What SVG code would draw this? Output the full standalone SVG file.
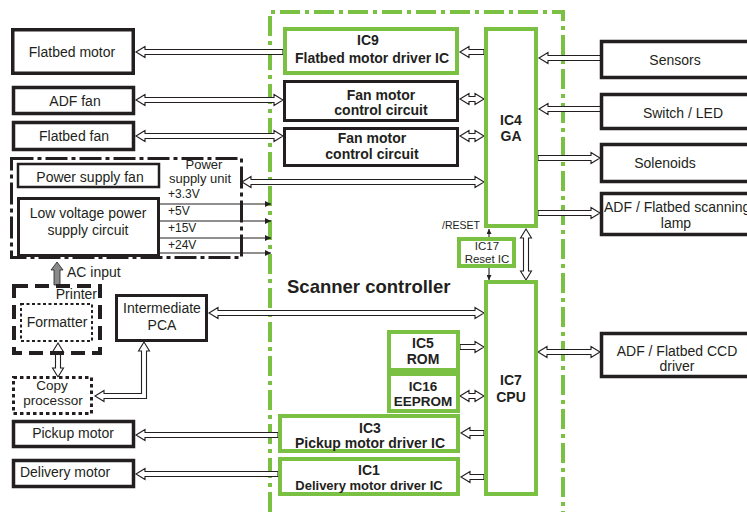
<svg xmlns="http://www.w3.org/2000/svg" width="747" height="512" viewBox="0 0 747 512">
<style>
text{font-family:"Liberation Sans",Arial,sans-serif;fill:#231f20}
.t{font-size:14px}
.b{font-size:14px;font-weight:bold}
.s{font-size:12px}
.blk{fill:#fff;stroke:#231f20;stroke-width:3.5}
.grn{fill:#fff;stroke:#7ac143;stroke-width:4}
.arr{fill:#fff;stroke:#231f20;stroke-width:1.1;stroke-linejoin:miter}
.thin{stroke:#231f20;stroke-width:1.1;fill:none}
</style>
<defs>
<marker id="tri" viewBox="0 0 10 10" refX="10" refY="5" markerWidth="8" markerHeight="6" markerUnits="userSpaceOnUse" orient="auto">
<path d="M0,0 L10,5 L0,10 Z" fill="#231f20"/>
</marker>
<marker id="sm" viewBox="0 0 10 10" refX="10" refY="5" markerWidth="6" markerHeight="5" markerUnits="userSpaceOnUse" orient="auto">
<path d="M0,0 L10,5 L0,10 Z" fill="#231f20"/>
</marker>
</defs>
<rect width="747" height="512" fill="#fff"/>

<!-- scanner controller border -->
<g id="scanner-controller">
<path d="M270,512 L270,12 L563,12 L563,512" fill="none" stroke="#7ac143" stroke-width="4" stroke-dasharray="20 5 4 5"/>
<text x="287" y="293" style="font-size:18.5px;font-weight:bold">Scanner controller</text>
</g>

<!-- connectors -->
<g id="connectors">
<path class="arr" d="M136,52 L145,46.5 L145,49.5 L283,49.5 L283,54.5 L145,54.5 L145,57.5 Z"/>
<path class="arr" d="M136,100 L145,94.5 L145,97.5 L274,97.5 L274,94.5 L283,100 L274,105.5 L274,102.5 L145,102.5 L145,105.5 Z"/>
<path class="arr" d="M136,136 L145,130.5 L145,133.5 L274,133.5 L274,130.5 L283,136 L274,141.5 L274,138.5 L145,138.5 L145,141.5 Z"/>
<path class="arr" d="M460,52 L469,46.5 L469,49.5 L484,49.5 L484,54.5 L469,54.5 L469,57.5 Z"/>
<path class="arr" d="M460,99 L469,93.5 L469,96.5 L475,96.5 L475,93.5 L484,99 L475,104.5 L475,101.5 L469,101.5 L469,104.5 Z"/>
<path class="arr" d="M460,136 L469,130.5 L469,133.5 L475,133.5 L475,130.5 L484,136 L475,141.5 L475,138.5 L469,138.5 L469,141.5 Z"/>
<path class="arr" d="M539,58 L548,52.5 L548,55.5 L601,55.5 L601,60.5 L548,60.5 L548,63.5 Z"/>
<path class="arr" d="M539,109 L548,103.5 L548,106.5 L601,106.5 L601,111.5 L548,111.5 L548,114.5 Z"/>
<path class="arr" d="M538,155.5 L591,155.5 L591,152.5 L600,158 L591,163.5 L591,160.5 L538,160.5 Z"/>
<path class="arr" d="M538,210.5 L591,210.5 L591,207.5 L600,213 L591,218.5 L591,215.5 L538,215.5 Z"/>
<path class="arr" d="M242,182 L251,176.5 L251,179.5 L475,179.5 L475,176.5 L484,182 L475,187.5 L475,184.5 L251,184.5 L251,187.5 Z"/>
<path class="arr" d="M526,229 L531.5,238 L528.5,238 L528.5,271 L531.5,271 L526,280 L520.5,271 L523.5,271 L523.5,238 L520.5,238 Z"/>
<path class="arr" d="M209,313 L218,307.5 L218,310.5 L475,310.5 L475,307.5 L484,313 L475,318.5 L475,315.5 L218,315.5 L218,318.5 Z"/>
<path class="arr" d="M460,344.5 L475,344.5 L475,341.5 L484,347 L475,352.5 L475,349.5 L460,349.5 Z"/>
<path class="arr" d="M460,396 L469,390.5 L469,393.5 L475,393.5 L475,390.5 L484,396 L475,401.5 L475,398.5 L469,398.5 L469,401.5 Z"/>
<path class="arr" d="M461,433 L470,427.5 L470,430.5 L484,430.5 L484,435.5 L470,435.5 L470,438.5 Z"/>
<path class="arr" d="M461,477 L470,471.5 L470,474.5 L484,474.5 L484,479.5 L470,479.5 L470,482.5 Z"/>
<path class="arr" d="M136,435 L145,429.5 L145,432.5 L278,432.5 L278,437.5 L145,437.5 L145,440.5 Z"/>
<path class="arr" d="M136,474 L145,468.5 L145,471.5 L278,471.5 L278,476.5 L145,476.5 L145,479.5 Z"/>
<path class="arr" d="M538,352 L547,346.5 L547,349.5 L591,349.5 L591,346.5 L600,352 L591,357.5 L591,354.5 L547,354.5 L547,357.5 Z"/>
<path class="arr" d="M58,343 L63.5,352 L60.5,352 L60.5,368 L63.5,368 L58,377 L52.5,368 L55.5,368 L55.5,352 L52.5,352 Z"/>
<path class="arr" d="M144,342 L149.5,351 L146.5,351 L146.5,398.5 L104,398.5 L104,401.5 L95,396 L104,390.5 L104,393.5 L141.5,393.5 L141.5,351 L138.5,351 Z"/>
<path d="M57,262 L63,270 L60,270 L60,285 L54,285 L54,270 L51,270 Z" fill="#8a8a8a" stroke="#231f20" stroke-width="0.8"/>
<line class="thin" x1="160" y1="204" x2="271" y2="204" marker-end="url(#tri)"/>
<line class="thin" x1="160" y1="221" x2="271" y2="221" marker-end="url(#tri)"/>
<line class="thin" x1="160" y1="238" x2="271" y2="238" marker-end="url(#tri)"/>
<line class="thin" x1="160" y1="253" x2="271" y2="253" marker-end="url(#tri)"/>
<line class="thin" x1="489" y1="237" x2="489" y2="229" marker-end="url(#sm)"/>
<line class="thin" x1="489" y1="268" x2="489" y2="280" marker-end="url(#sm)"/>
</g>

<!-- left nodes -->
<g id="flatbed-motor"><rect class="blk" x="12.75" y="29.75" width="120.5" height="43.5"/><text class="t" x="72" y="57" text-anchor="middle">Flatbed motor</text></g>
<g id="adf-fan"><rect class="blk" x="13.5" y="87.5" width="120" height="26"/><text class="t" x="75" y="106" text-anchor="middle">ADF fan</text></g>
<g id="flatbed-fan"><rect class="blk" x="13.5" y="122.5" width="120" height="27"/><text class="t" x="74" y="141" text-anchor="middle">Flatbed fan</text></g>

<g id="power-supply-unit">
<rect x="11.5" y="158.5" width="230" height="99" fill="none" stroke="#231f20" stroke-width="3" stroke-dasharray="22 4 4 4"/>
<text x="204" y="169" text-anchor="middle" style="font-size:13px">Power</text>
<text x="200" y="183" text-anchor="middle" style="font-size:13px">supply unit</text>
<text class="s" x="168" y="198">+3.3V</text>
<text class="s" x="168" y="215">+5V</text>
<text class="s" x="168" y="232">+15V</text>
<text class="s" x="168" y="249">+24V</text>
</g>
<g id="power-supply-fan"><rect x="18" y="164" width="141" height="23" fill="#fff" stroke="#231f20" stroke-width="2.5"/><text class="t" x="90" y="182" text-anchor="middle">Power supply fan</text></g>
<g id="low-voltage"><rect x="18.5" y="198.5" width="140" height="57" fill="#fff" stroke="#231f20" stroke-width="3"/><text class="t" x="88" y="218" text-anchor="middle">Low voltage power</text><text class="t" x="88" y="235" text-anchor="middle">supply circuit</text></g>
<g id="ac-input"><text class="t" x="67" y="277">AC input</text></g>

<g id="printer"><rect x="14" y="286" width="86" height="67" fill="none" stroke="#231f20" stroke-width="4" stroke-dasharray="14 7"/><text class="t" x="97" y="299" text-anchor="end">Printer</text></g>
<g id="formatter"><rect x="21" y="304" width="71" height="37" fill="#fff" stroke="#231f20" stroke-width="2" stroke-dasharray="3 2.5"/><text class="t" x="57" y="327" text-anchor="middle">Formatter</text></g>
<g id="copy-processor"><rect x="13.5" y="377.5" width="78" height="36" fill="#fff" stroke="#231f20" stroke-width="3" stroke-dasharray="3.5 3"/><text x="52" y="390" text-anchor="middle" style="font-size:13.5px">Copy</text><text x="53" y="405" text-anchor="middle" style="font-size:13.5px">processor</text></g>
<g id="intermediate-pca"><rect x="116.5" y="295.5" width="90" height="45" fill="#fff" stroke="#231f20" stroke-width="3"/><text class="t" x="162" y="313" text-anchor="middle">Intermediate</text><text class="t" x="162" y="330" text-anchor="middle">PCA</text></g>
<g id="pickup-motor"><rect class="blk" x="13.5" y="421.5" width="120" height="25"/><text class="t" x="73" y="438" text-anchor="middle">Pickup motor</text></g>
<g id="delivery-motor"><rect class="blk" x="13.5" y="460.5" width="120" height="26"/><text class="t" x="65" y="477" text-anchor="middle">Delivery motor</text></g>

<!-- scanner controller nodes -->
<g id="ic9"><rect class="grn" x="285" y="29" width="172" height="44"/><text class="b" x="368" y="45" text-anchor="middle">IC9</text><text class="b" x="372" y="63" text-anchor="middle">Flatbed motor driver IC</text></g>
<g id="fan-ctrl-1"><rect x="284.5" y="81.5" width="173" height="39" fill="#fff" stroke="#231f20" stroke-width="3"/><text class="b" x="381" y="100" text-anchor="middle">Fan motor</text><text class="b" x="381" y="115" text-anchor="middle">control circuit</text></g>
<g id="fan-ctrl-2"><rect x="284.5" y="128.5" width="173" height="37" fill="#fff" stroke="#231f20" stroke-width="3"/><text class="b" x="372" y="143" text-anchor="middle">Fan motor</text><text class="b" x="372" y="159" text-anchor="middle">control circuit</text></g>
<g id="ic4"><rect class="grn" x="486" y="29" width="50" height="197"/><text class="b" x="511" y="125" text-anchor="middle">IC4</text><text class="b" x="511" y="141" text-anchor="middle">GA</text></g>
<g id="ic17"><rect class="grn" x="459" y="239" width="55" height="27"/><text style="font-size:11.5px" x="487" y="250" text-anchor="middle">IC17</text><text style="font-size:11.5px" x="487" y="263" text-anchor="middle">Reset IC</text></g>
<text id="reset-label" x="480" y="229" text-anchor="end" style="font-size:10.5px">/RESET</text>
<g id="ic7"><rect class="grn" x="486" y="282" width="50" height="212"/><text class="b" x="511" y="385" text-anchor="middle">IC7</text><text class="b" x="511" y="402" text-anchor="middle">CPU</text></g>
<g id="ic5"><rect class="grn" x="389" y="332" width="69" height="38"/><text class="b" x="423" y="348" text-anchor="middle">IC5</text><text class="b" x="423" y="364" text-anchor="middle">ROM</text></g>
<g id="ic16"><rect class="grn" x="389" y="374" width="69" height="37"/><text x="423" y="390.5" text-anchor="middle" style="font-size:13.5px;font-weight:bold">IC16</text><text x="423" y="406" text-anchor="middle" style="font-size:13.5px;font-weight:bold">EEPROM</text></g>
<g id="ic3"><rect class="grn" x="280" y="416" width="178" height="35"/><text class="b" x="370" y="433" text-anchor="middle">IC3</text><text class="b" x="370" y="448" text-anchor="middle">Pickup motor driver IC</text></g>
<g id="ic1"><rect class="grn" x="280" y="459" width="178" height="35"/><text class="b" x="369" y="475" text-anchor="middle">IC1</text><text x="369" y="490" text-anchor="middle" style="font-size:13px;font-weight:bold">Delivery motor driver IC</text></g>

<!-- right nodes -->
<g id="sensors"><rect class="blk" x="601.5" y="41.5" width="160" height="36"/><text class="t" x="675" y="65" text-anchor="middle">Sensors</text></g>
<g id="switch-led"><rect class="blk" x="601.5" y="94.5" width="160" height="34"/><text class="t" x="683" y="118" text-anchor="middle">Switch / LED</text></g>
<g id="solenoids"><rect class="blk" x="601.5" y="144.5" width="160" height="37"/><text class="t" x="665" y="168" text-anchor="middle">Solenoids</text></g>
<g id="scanning-lamp"><rect class="blk" x="601.5" y="193.5" width="160" height="41"/><text class="t" x="604" y="212">ADF / Flatbed scanning</text><text class="t" x="676" y="228" text-anchor="middle">lamp</text></g>
<g id="ccd-driver"><rect class="blk" x="601.5" y="333.5" width="160" height="43"/><text class="t" x="677" y="356" text-anchor="middle">ADF / Flatbed CCD</text><text class="t" x="677" y="371" text-anchor="middle">driver</text></g>
</svg>
